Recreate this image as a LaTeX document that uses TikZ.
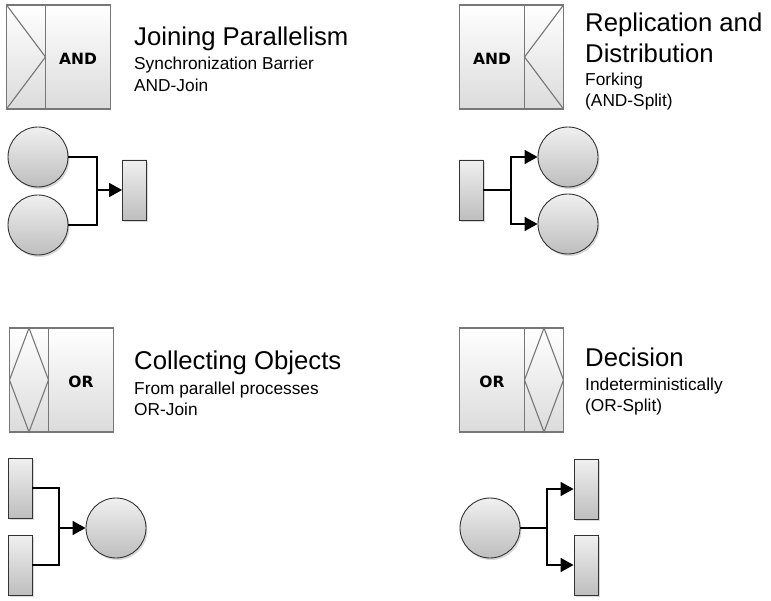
\documentclass[tikz,border=0pt]{standalone}
\usepackage{fontspec}
\setmainfont{Liberation Sans}
\newfontfamily\gatefont{DejaVu Sans}
\usetikzlibrary{arrows.meta,positioning,shadows}
\definecolor{frame}{HTML}{777777}
\definecolor{shadetop}{HTML}{F0F0F0}
\definecolor{shadebot}{HTML}{BEBEBE}
\tikzset{gatebox/.style={draw=frame, line width=1.5pt, outer sep=0pt, top color=white, bottom color={black!14}, minimum height=104pt, inner sep=0pt, text height=14.5pt, text depth=0pt, font=\gatefont\bfseries\fontsize{15.5}{18}\selectfont}}
\tikzset{wide/.style={gatebox, minimum width=65pt}}
\tikzset{narrow/.style={gatebox, minimum width=39pt}}
\tikzset{sym/.style={draw=frame, line width=1.1pt}}
\tikzset{obj/.style={circle, draw={black!80}, line width=0.9pt, minimum size=60pt, inner sep=0pt, top color=shadetop, bottom color=shadebot, drop shadow={shadow xshift=1.5pt, shadow yshift=-2pt, opacity=0.3}}}
\tikzset{proc/.style={rectangle, draw={black!80}, line width=0.9pt, minimum width=24pt, minimum height=60pt, inner sep=0pt, top color=shadetop, bottom color=shadebot, drop shadow={shadow xshift=1.5pt, shadow yshift=-2pt, opacity=0.3}}}
\tikzset{link/.style={draw, line width=1.8pt}}
\tikzset{flow/.style={link, -{Triangle[length=13pt,width=14pt]}}}
\tikzset{head/.style={anchor=base west, inner sep=0pt, font=\fontsize{25.7}{31}\selectfont}}
\tikzset{sub/.style={anchor=base west, inner sep=0pt, font=\fontsize{17.3}{22}\selectfont}}

\begin{document}
\begin{tikzpicture}[x=1pt, y=-1pt]
		\useasboundingbox (0,0) rectangle (771,601);
		
		% joining parallelism
		\node[wide] (tlg) at (78,57){AND};
		\node[narrow, left=0pt of tlg] (tls){};
		\draw[sym] (tls.north west) -- (tls.east) -- (tls.south west);
		\node[head] (tlh) at (134,46){Joining Parallelism};
		\node[sub] (tls1) at (134,70){Synchronization Barrier};
		\node[sub] (tls2) at (134,92){AND-Join};
		
		\node[obj] (tlc1) at (38,157){};
		\node[obj] (tlc2) at (38,225){};
		\node[proc] (tlr) at (134.5,190){};
		\coordinate (tlj) at (97,190);
		\draw[link] (tlc1.east) -| (tlj) |- (tlc2.east);
		\draw[flow] (tlj) -- (tlr.west);
		
		% replication and distribution
		\node[wide] (trg) at (492,57){AND};
		\node[narrow, right=0pt of trg] (trs){};
		\draw[sym] (trs.north east) -- (trs.west) -- (trs.south east);
		\node[head] (trh1) at (585,32){Replication and};
		\node[head] (trh2) at (585,63){Distribution};
		\node[sub] (trs1) at (585,86){Forking};
		\node[sub] (trs2) at (585,107){(AND-Split)};
		
		\node[proc] (trr) at (471,190){};
		\node[obj] (trc1) at (568,157){};
		\node[obj] (trc2) at (568,224){};
		\coordinate (trj) at (511,190);
		\draw[link] (trr.east) -- (trj);
		\draw[flow] (trj) |- (trc1.west);
		\draw[flow] (trj) |- (trc2.west);
		
		% collecting objects
		\node[wide] (blg) at (81,380){OR};
		\node[narrow, left=0pt of blg] (bls){};
		\draw[sym] (bls.north) -- (bls.east) -- (bls.south) -- (bls.west) -- cycle;
		\node[head] (blh) at (134,370){Collecting Objects};
		\node[sub] (bls1) at (134,395){From parallel processes};
		\node[sub] (bls2) at (134,416){OR-Join};
		
		\node[proc] (blr1) at (20,488){};
		\node[proc] (blr2) at (20,565){};
		\node[obj] (blc) at (116,528){};
		\coordinate (blj) at (59,528);
		\draw[link] (blr1.east) -| (blj) |- (blr2.east);
		\draw[flow] (blj) -- (blc.west);
		
		% decision
		\node[wide] (brg) at (492,380){OR};
		\node[narrow, right=0pt of brg] (brs){};
		\draw[sym] (brs.north) -- (brs.east) -- (brs.south) -- (brs.west) -- cycle;
		\node[head] (brh) at (585,367){Decision};
		\node[sub] (brs1) at (585,391){Indeterministically};
		\node[sub] (brs2) at (585,412){(OR-Split)};
		
		\node[obj] (brc) at (490,528){};
		\node[proc] (brr1) at (586,489){};
		\node[proc] (brr2) at (586,565){};
		\coordinate (brj) at (547,528);
		\draw[link] (brc.east) -- (brj);
		\draw[flow] (brj) |- (brr1.west);
		\draw[flow] (brj) |- (brr2.west);
	\end{tikzpicture}
\end{document}
